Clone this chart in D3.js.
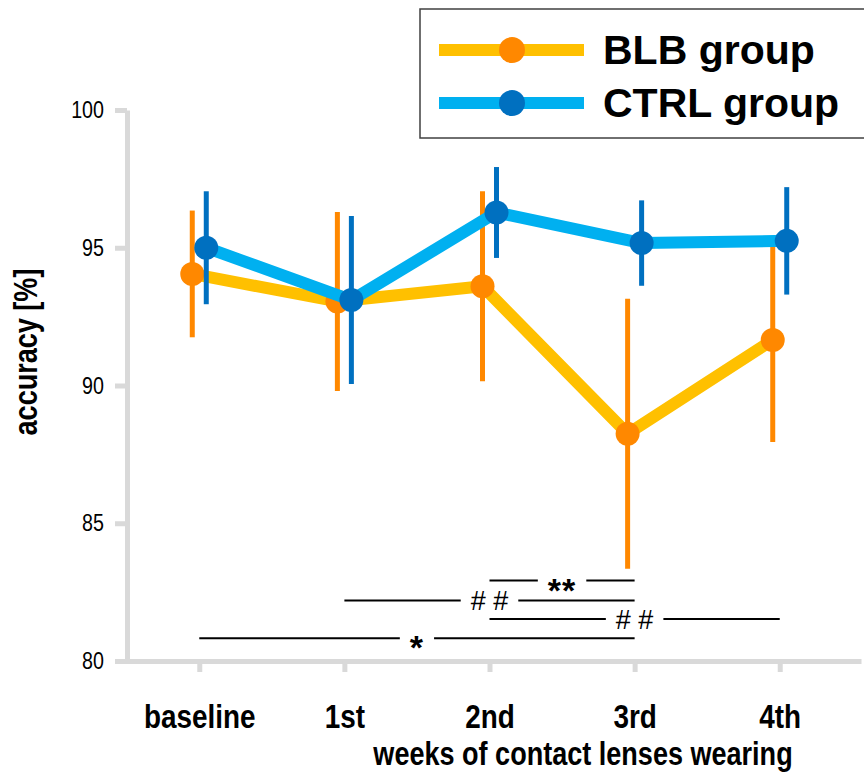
<!DOCTYPE html>
<html>
<head>
<meta charset="utf-8">
<script src="https://cdn.jsdelivr.net/npm/d3@7"></script>
<style>
  html, body { margin: 0; padding: 0; background: #fff; }
  svg { display: block; }
  text { font-family: "Liberation Sans", Arial, sans-serif; }
</style>
</head>
<body>
<svg id="chart" width="864" height="772"></svg>
<script>
// ---- data ----
const categories = ["baseline", "1st", "2nd", "3rd", "4th"];
const blbMean = [94.05, 93.05, 93.6, 88.25, 91.65];
const blbSD   = [2.3, 3.25, 3.45, 4.9, 3.7];
const ctrlMean = [95.0, 93.1, 96.28, 95.17, 95.25];
const ctrlSD   = [2.05, 3.05, 1.65, 1.55, 1.95];
const yTicks = [80, 85, 90, 95, 100];
const seriesNames = ["BLB group", "CTRL group"];
const sigFrom  = [2, 1, 2, 0];
const sigTo    = [3, 3, 4, 3];
const sigLabel = ["**", "# #", "# #", "*"];
const sigLevel = [82.92, 82.2, 81.52, 80.83];

// ---- styles ----
const colors = {
  blbLine: "#FFC000", blbDot: "#FF8800",
  ctrlLine: "#00B0F0", ctrlDot: "#0070C0",
  axis: "#d9d9d9"
};
const NARROW = 0.82;

const svg = d3.select("#chart");

const x = d3.scalePoint().domain(categories).range([118, 861]).padding(0.56);
const y = d3.scaleLinear().domain([80, 100]).range([661, 110]);
const off = 7;

// axes
const yAxis = svg.append("g").attr("transform", "translate(127,0)")
  .call(d3.axisLeft(y).tickValues(yTicks).tickSize(12).tickSizeOuter(0).tickPadding(11));
const xAxis = svg.append("g").attr("transform", "translate(0,661)")
  .call(d3.axisBottom(x).tickSize(11).tickSizeOuter(0).tickPadding(32));

[yAxis, xAxis].forEach(g => {
  g.select(".domain").attr("stroke", colors.axis).attr("stroke-width", 5);
  g.selectAll(".tick line").attr("stroke", colors.axis).attr("stroke-width", 5);
});
yAxis.selectAll(".tick text")
  .attr("font-family", "Liberation Sans, Arial, sans-serif")
  .attr("font-size", 24).attr("fill", "#000")
  .attr("x", function() { return +d3.select(this).attr("x") / NARROW; })
  .attr("transform", `scale(${NARROW},1)`);
xAxis.selectAll(".tick text")
  .attr("font-family", "Liberation Sans, Arial, sans-serif")
  .attr("font-size", 34).attr("font-weight", "bold").attr("fill", "#000")
  .attr("transform", `scale(${NARROW},1)`);

// axis titles
svg.append("text")
  .attr("transform", `translate(37,352) rotate(-90) scale(${NARROW},1)`)
  .attr("text-anchor", "middle").attr("font-size", 33).attr("font-weight", "bold")
  .text("accuracy [%]");
svg.append("text")
  .attr("transform", `translate(583,765) scale(${NARROW},1)`)
  .attr("text-anchor", "middle").attr("font-size", 33).attr("font-weight", "bold")
  .text("weeks of contact lenses wearing");

// significance annotations
const sig = svg.append("g");
sigFrom.forEach((f, i) => {
  const x1 = x(categories[f]), x2 = x(categories[sigTo[i]]);
  const yy = y(sigLevel[i]);
  sig.append("line").attr("x1", x1).attr("x2", x2).attr("y1", yy).attr("y2", yy)
    .attr("stroke", "#000").attr("stroke-width", 2);
  const isStar = sigLabel[i].indexOf("*") >= 0;
  const cx = (x1 + x2) / 2;
  const t = sig.append("text")
    .attr("x", cx).attr("y", yy + (isStar ? 21 : 10))
    .attr("text-anchor", "middle")
    .attr("font-size", isStar ? 34 : 27)
    .attr("font-weight", isStar ? "bold" : "normal")
    .attr("letter-spacing", isStar ? 1 : 0)
    .text(sigLabel[i]);
  const w = t.node().getComputedTextLength();
  sig.insert("rect", function() { return t.node(); })
    .attr("x", cx - w / 2 - 10).attr("width", w + 20)
    .attr("y", yy - 4).attr("height", 8).attr("fill", "#fff");
});

// series
function drawSeries(means, sds, lineColor, dotColor, dx) {
  const g = svg.append("g");
  const pts = categories.map((c, i) => ({ c, m: means[i], s: sds[i] }));
  g.selectAll("line.err").data(pts).enter().append("line")
    .attr("x1", d => x(d.c) + dx).attr("x2", d => x(d.c) + dx)
    .attr("y1", d => y(d.m + d.s)).attr("y2", d => y(d.m - d.s))
    .attr("stroke", dotColor).attr("stroke-width", 5);
  g.append("path").datum(pts)
    .attr("d", d3.line().x(d => x(d.c) + dx).y(d => y(d.m)))
    .attr("fill", "none").attr("stroke", lineColor).attr("stroke-width", 12)
    .attr("stroke-linejoin", "round");
  g.selectAll("circle").data(pts).enter().append("circle")
    .attr("cx", d => x(d.c) + dx).attr("cy", d => y(d.m)).attr("r", 12)
    .attr("fill", dotColor);
}
drawSeries(blbMean, blbSD, colors.blbLine, colors.blbDot, -off);
drawSeries(ctrlMean, ctrlSD, colors.ctrlLine, colors.ctrlDot, off);

// legend
const lg = svg.append("g");
lg.append("rect").attr("x", 420).attr("y", 9).attr("width", 470).attr("height", 129)
  .attr("fill", "#fff").attr("stroke", "#404040").attr("stroke-width", 1.5);
const legendItems = [
  { name: seriesNames[0], line: colors.blbLine, dot: colors.blbDot },
  { name: seriesNames[1], line: colors.ctrlLine, dot: colors.ctrlDot }
];
legendItems.forEach((it, i) => {
  const yy = 50 + i * 53;
  lg.append("line").attr("x1", 439).attr("x2", 584).attr("y1", yy).attr("y2", yy)
    .attr("stroke", it.line).attr("stroke-width", 12);
  lg.append("circle").attr("cx", 512).attr("cy", yy).attr("r", 13).attr("fill", it.dot);
  lg.append("text").attr("x", 603).attr("y", yy + 14)
    .attr("font-size", 41).attr("font-weight", "bold").text(it.name);
});
</script>
</body>
</html>
